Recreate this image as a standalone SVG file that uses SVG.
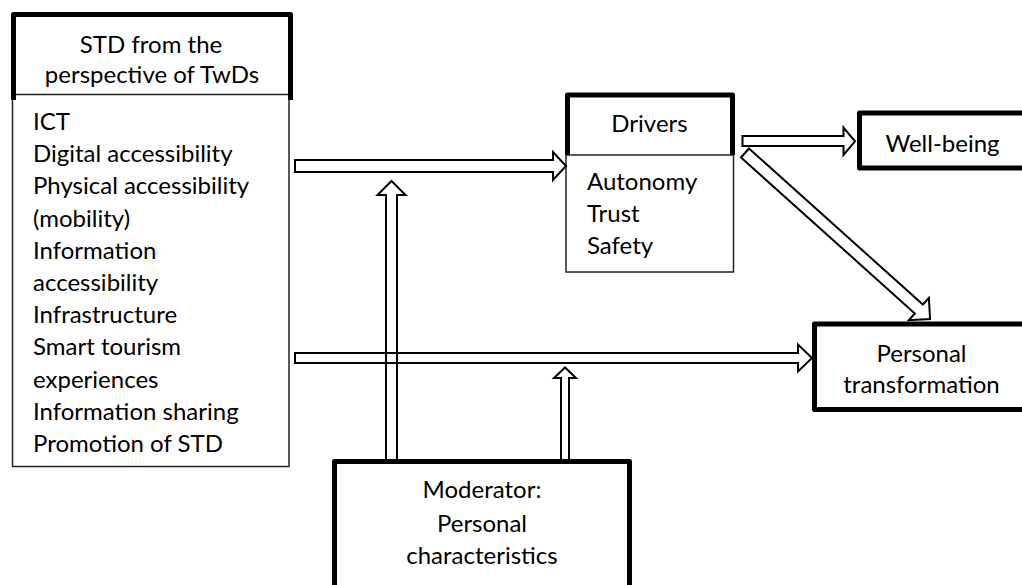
<svg xmlns="http://www.w3.org/2000/svg" width="1022" height="585" viewBox="0 0 1022 585">
<style>
  text { font-family: Lato, "Open Sans", "Liberation Sans", sans-serif; font-size: 24px; fill: #000; }
  .c { text-anchor: middle; }
  .thick { fill: #fff; stroke: #000; stroke-width: 5; stroke-linejoin: round; }
  .hdr { fill: none; stroke: #000; stroke-width: 5; stroke-linejoin: round; }
  .thin { fill: #fff; stroke: #222; stroke-width: 1.5; }
  .arr { fill: none; stroke: #000; stroke-width: 2; stroke-linejoin: miter; }
</style>
<rect width="1022" height="585" fill="#fff"/>

<g id="node-std">
  <rect class="thin" x="12.5" y="94.5" width="276.5" height="372"/>
  <path class="hdr" d="M13.5,100 V14.5 H290.5 V100"/>
  <text class="c" x="151" y="53">STD from the</text>
  <text class="c" x="152" y="83">perspective of TwDs</text>
  <text x="33" y="130">ICT</text>
  <text x="33" y="162.2">Digital accessibility</text>
  <text x="33" y="194.4">Physical accessibility</text>
  <text x="33" y="226.6">(mobility)</text>
  <text x="33" y="258.8">Information</text>
  <text x="33" y="291">accessibility</text>
  <text x="33" y="323.2">Infrastructure</text>
  <text x="33" y="355.4">Smart tourism</text>
  <text x="33" y="387.6">experiences</text>
  <text x="33" y="419.8">Information sharing</text>
  <text x="33" y="452">Promotion of STD</text>
</g>

<g id="node-drivers">
  <rect class="thin" x="566" y="155" width="167.5" height="117"/>
  <path class="hdr" d="M567.5,155 V95 H732.5 V155"/>
  <text class="c" x="649.5" y="132">Drivers</text>
  <text x="587" y="190">Autonomy</text>
  <text x="587" y="222">Trust</text>
  <text x="587" y="254">Safety</text>
</g>

<g id="node-wellbeing">
  <rect class="thick" x="859.5" y="113" width="180" height="55"/>
  <text class="c" x="942.5" y="151.5">Well-being</text>
</g>

<g id="node-transformation">
  <rect class="thick" x="814.5" y="324" width="220" height="85.5"/>
  <text class="c" x="921.5" y="361.5">Personal</text>
  <text class="c" x="921.5" y="393">transformation</text>
</g>

<g id="node-moderator">
  <rect class="thick" x="334.5" y="461.5" width="295" height="140"/>
  <text class="c" x="482" y="498">Moderator:</text>
  <text class="c" x="482" y="531.5">Personal</text>
  <text class="c" x="482" y="564">characteristics</text>
</g>

<g id="connectors">
  <polygon class="arr" points="295,160 553,160 553,152 566,166 553,180 553,172 295,172"/>
  <polygon class="arr" points="386,460 386,195 377.5,195 391.5,181 405.5,195 397,195 397,460"/>
  <polygon class="arr" points="295,353 798,353 798,344.5 812,358 798,371.5 798,363 295,363"/>
  <polygon class="arr" points="561,460 561,378 554,378 565,367.5 576,378 569,378 569,460"/>
  <polygon class="arr" points="742.5,136 843.5,136 843.5,127.5 855,141.3 843.5,155 843.5,146 742.5,146"/>
  <polygon class="arr" transform="translate(745,153) rotate(41.9)" points="0,-6 233.6,-6 233.6,-15 248.6,0 233.6,15 233.6,6 0,6"/>
</g>
</svg>
